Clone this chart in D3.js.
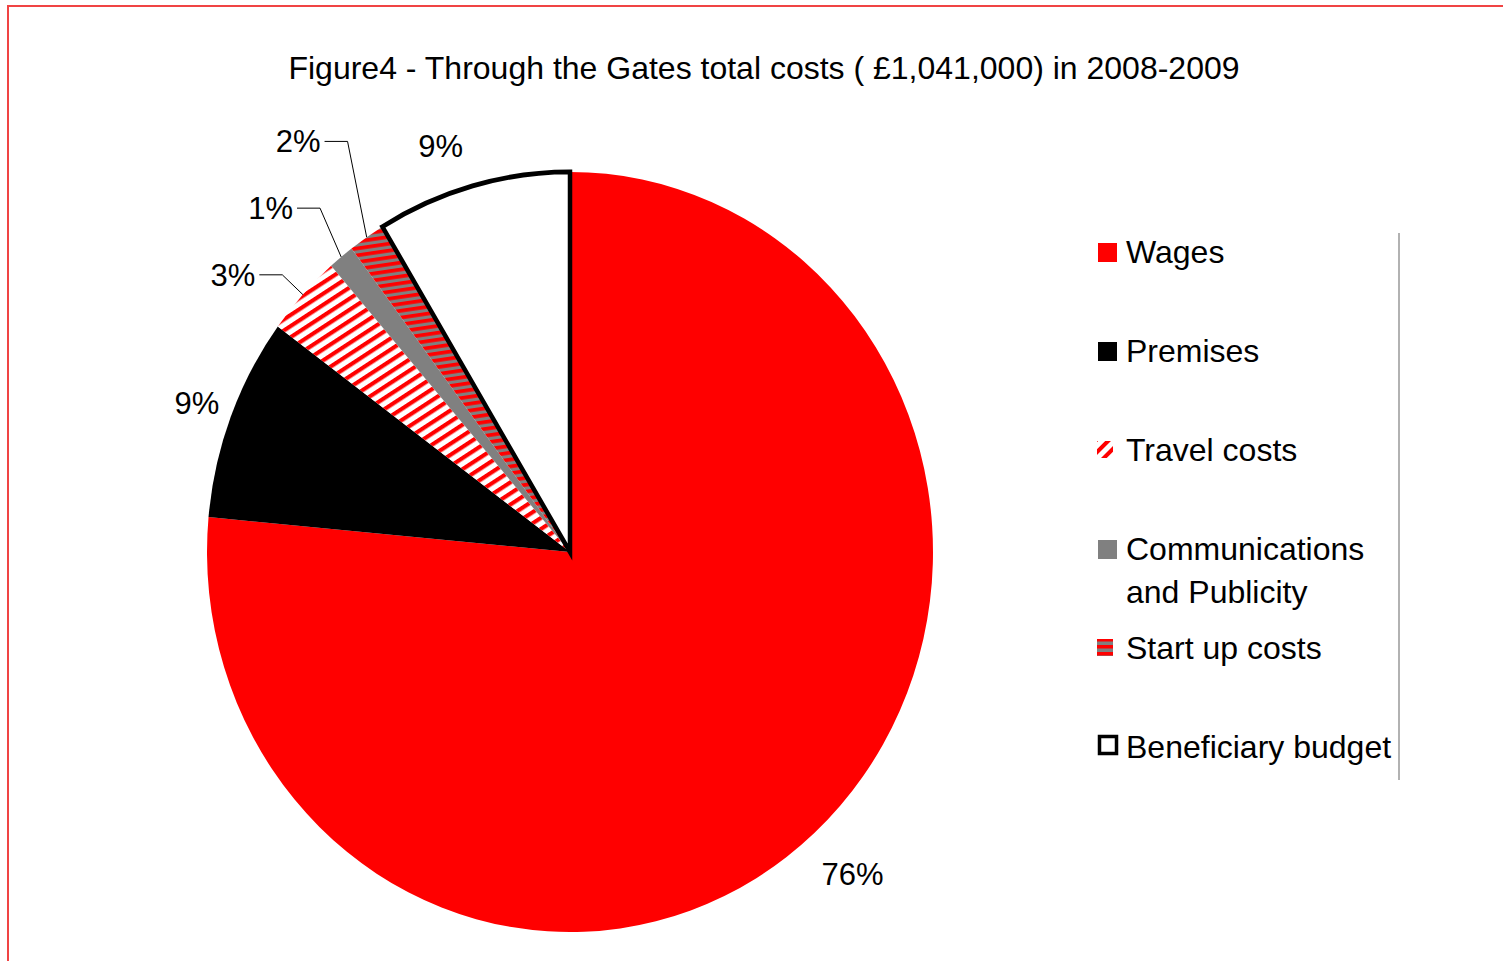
<!DOCTYPE html>
<html lang="en">
<head>
<meta charset="UTF-8">
<title>Through the Gates total costs</title>
<script src="https://d3js.org/d3.v7.min.js"></script>
<style>
  body { margin: 0; background: #fff; }
  svg { display: block; font-family: "Liberation Sans", Arial, sans-serif; }
</style>
</head>
<body>
<div id="chart"></div>
<script>
// cost categories and amounts (GBP)
const categories = ["Wages", "Premises", "Travel costs", "Communications and Publicity", "Start up costs", "Beneficiary budget"];
const costs = [796000, 90000, 36000, 12000, 17000, 90000];
const titleText = "Figure4 - Through the Gates total costs ( \u00a31,041,000) in 2008-2009";

const W = 1503, H = 961;
const cx = 570, cy = 552, r = 363, sy = 1.047;   // pie is slightly taller than wide

const svg = d3.select("#chart").append("svg")
    .attr("width", W).attr("height", H);

const defs = svg.append("defs");

// red / white stripes for travel
const pTravel = defs.append("pattern")
    .attr("id", "travel").attr("patternUnits", "userSpaceOnUse")
    .attr("width", 9).attr("height", 9)
    .attr("patternTransform", "rotate(-32)");
pTravel.append("rect").attr("width", 9).attr("height", 9).attr("fill", "#fff");
pTravel.append("rect").attr("width", 9).attr("height", 4).attr("fill", "#ff0000");

// red / grey stripes for start up costs
const pStart = defs.append("pattern")
    .attr("id", "startup").attr("patternUnits", "userSpaceOnUse")
    .attr("width", 8).attr("height", 6.5)
    .attr("patternTransform", "rotate(-8)");
pStart.append("rect").attr("width", 8).attr("height", 6.5).attr("fill", "#808080");
pStart.append("rect").attr("width", 8).attr("height", 3.5).attr("fill", "#ff0000");

// legend versions
const pTravelL = defs.append("pattern")
    .attr("id", "travelL").attr("patternUnits", "userSpaceOnUse")
    .attr("width", 9).attr("height", 9)
    .attr("patternTransform", "rotate(-45)");
pTravelL.append("rect").attr("width", 9).attr("height", 9).attr("fill", "#fff");
pTravelL.append("rect").attr("width", 9).attr("height", 4).attr("fill", "#ff0000");

const pStartL = defs.append("pattern")
    .attr("id", "startupL").attr("patternUnits", "userSpaceOnUse")
    .attr("width", 16).attr("height", 7);
pStartL.append("rect").attr("width", 16).attr("height", 7).attr("fill", "#808080");
pStartL.append("rect").attr("width", 16).attr("height", 3.5).attr("fill", "#ff0000");

const fills = ["#ff0000", "#000000", "url(#travel)", "#808080", "url(#startup)", "#ffffff"];
const legendFills = ["#ff0000", "#000000", "url(#travelL)", "#808080", "url(#startupL)", "#ffffff"];

// frame
svg.append("path")
    .attr("d", `M8,${H + 5}V6H${W + 5}`)
    .attr("fill", "none").attr("stroke", "#f04444").attr("stroke-width", 2);

// title
svg.append("text")
    .attr("x", 764).attr("y", 79)
    .attr("text-anchor", "middle")
    .attr("font-size", 32)
    .text(titleText);

const total = d3.sum(costs);
const pie = d3.pie().sort(null).value(d => d);
const arcs = pie(costs);
const arc = d3.arc().innerRadius(0).outerRadius(r);

const g = svg.append("g")
    .attr("transform", `translate(${cx},${cy}) scale(1,${sy})`);

g.selectAll("path.slice")
    .data(arcs)
    .enter().append("path")
    .attr("class", "slice")
    .attr("d", arc)
    .attr("fill", (d, i) => fills[i])
    .attr("stroke", (d, i) => i === 5 ? "#000" : "none")
    .attr("stroke-width", (d, i) => i === 5 ? 4.5 : 0)
    .attr("stroke-linejoin", "miter");

// bring the outlined slice to the front
g.selectAll("path.slice").filter((d, i) => i === 5).raise();

// label placement: radius factor and angle nudge (deg); leader = elbow style
const labelLayout = [
    { k: 1.15, da: -0.25 },
    { k: 1.10, da: 0 },
    { k: 1.077, da: 0, leader: true },
    { k: 1.137, da: 1.8, leader: true },
    { k: 1.242, da: 4.5, leader: true },
    { k: 1.126, da: -2.9 }
];

const pct = d3.format(".0%");
const polar = (a, k) => [cx + k * r * Math.sin(a), cy - k * r * Math.cos(a) * sy];

arcs.forEach((d, i) => {
    const L = labelLayout[i];
    const mid = (d.startAngle + d.endAngle) / 2;
    const a = mid + L.da * Math.PI / 180;
    const [x, y] = polar(a, L.k);
    const label = pct(d.value / total);
    if (L.leader) {
        const [ax, ay] = polar(mid, 1.0);
        svg.append("path")
            .attr("d", `M${x - 23},${y}H${x}L${ax},${ay}`)
            .attr("fill", "none").attr("stroke", "#000").attr("stroke-width", 1);
        svg.append("text")
            .attr("x", x - 27).attr("y", y).attr("dy", "0.35em")
            .attr("text-anchor", "end").attr("font-size", 31)
            .text(label);
    } else {
        svg.append("text")
            .attr("x", x).attr("y", y).attr("dy", "0.35em")
            .attr("text-anchor", "middle").attr("font-size", 31)
            .text(label);
    }
});

// legend
const legend = svg.append("g").attr("transform", "translate(1098,263)");
const rowH = 99;

const item = legend.selectAll("g.item")
    .data(categories)
    .enter().append("g")
    .attr("class", "item")
    .attr("transform", (d, i) => `translate(0,${i * rowH})`);

item.append("rect")
    .attr("x", (d, i) => (i === 2 || i === 4) ? -1 : 0)
    .attr("y", (d, i) => i === 5 ? -23 : -20)
    .attr("width", (d, i) => i === 5 ? 17 : (i === 2 || i === 4) ? 16 : 19)
    .attr("height", (d, i) => i === 5 ? 17 : (i === 2 || i === 4) ? 17 : 19)
    .attr("fill", (d, i) => legendFills[i])
    .attr("stroke", (d, i) => i === 5 ? "#000" : "none")
    .attr("stroke-width", 3.5)
    .attr("transform", (d, i) => i === 5 ? "translate(1.5,1.5)" : null);

item.append("text")
    .attr("x", 28)
    .attr("font-size", 32)
    .each(function(d) {
        const t = d3.select(this);
        const parts = d.split(" and ");
        if (parts.length > 1) {
            t.append("tspan").attr("x", 28).attr("dy", 0).text(parts[0]);
            t.append("tspan").attr("x", 28).attr("dy", 43).text("and " + parts[1]);
        } else {
            t.text(d);
        }
    });

// thin grey rule at the right of the legend
svg.append("line")
    .attr("x1", 1399).attr("x2", 1399)
    .attr("y1", 233).attr("y2", 780)
    .attr("stroke", "#999").attr("stroke-width", 1.5);
</script>
</body>
</html>
